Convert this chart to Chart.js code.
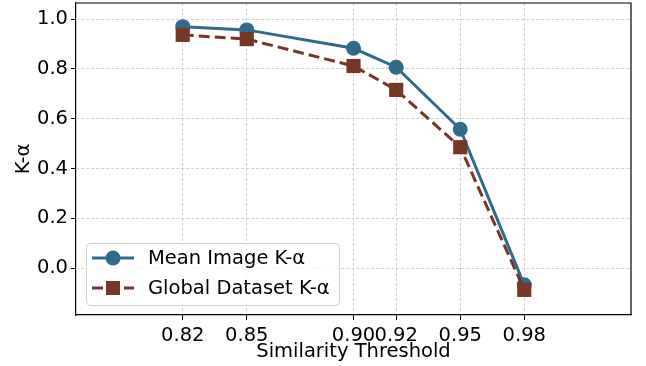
<!DOCTYPE html>
<html>
<head>
<meta charset="utf-8">
<script src="https://cdn.jsdelivr.net/npm/chart.js@4/dist/chart.umd.min.js"></script>
<style>
  html, body { margin: 0; padding: 0; background: #fff; }
  canvas { display: block; }
</style>
</head>
<body>
<canvas id="kalpha-chart" width="646" height="366"></canvas>
<script>
/*global Chart */
const thresholds = [0.82, 0.85, 0.90, 0.92, 0.95, 0.98]
const meanImageAlpha = [0.970, 0.957, 0.883, 0.807, 0.558, -0.067]
const globalDatasetAlpha = [0.937, 0.920, 0.812, 0.716, 0.486, -0.087]
const xTicks = [0.82, 0.85, 0.90, 0.92, 0.95, 0.98]
const yTicks = [0.0, 0.2, 0.4, 0.6, 0.8, 1.0]

const blue = '#316b89'
const brown = '#763628'
const font = { family: 'DejaVu Sans', size: 19.5 }

const toPoints = values => thresholds.map((x, i) => ({ x, y: values[i] }))

// black frame round the plot area (top and right come from here)
const frame = {
  id: 'frame',
  afterDraw: chart => {
    const { ctx, chartArea: a } = chart
    ctx.save()
    ctx.strokeStyle = '#000'
    ctx.lineWidth = 1.2
    ctx.beginPath()
    ctx.moveTo(a.left, a.top)
    ctx.lineTo(a.right, a.top)
    ctx.lineTo(a.right, a.bottom)
    ctx.stroke()
    ctx.restore()
  }
}

// legend box in the lower left of the plot area
const legendBox = {
  id: 'legendBox',
  afterDraw: chart => {
    const ctx = chart.ctx
    const x0 = 86, y0 = 243, w = 253, h = 62
    ctx.save()
    ctx.beginPath()
    ctx.roundRect(x0 + 0.5, y0 + 0.5, w, h, 4)
    ctx.fillStyle = 'rgba(255,255,255,0.8)'
    ctx.fill()
    ctx.strokeStyle = '#d0d0d0'
    ctx.lineWidth = 1
    ctx.stroke()

    const rows = [
      { label: 'Mean Image K-α', color: blue, dash: [], shape: 'circle', y: 258 },
      { label: 'Global Dataset K-α', color: brown, dash: [11, 5], shape: 'rect', y: 288 }
    ]
    rows.forEach(row => {
      ctx.strokeStyle = row.color
      ctx.fillStyle = row.color
      ctx.lineWidth = 3
      ctx.setLineDash(row.dash)
      ctx.beginPath()
      ctx.moveTo(92, row.y)
      ctx.lineTo(134, row.y)
      ctx.stroke()
      ctx.setLineDash([])
      if (row.shape === 'circle') {
        ctx.beginPath()
        ctx.arc(113, row.y, 7.5, 0, Math.PI * 2)
        ctx.fill()
      } else {
        ctx.fillRect(106, row.y - 7, 14, 14)
      }
      ctx.fillStyle = '#000'
      ctx.font = `${font.size}px ${font.family}`
      ctx.textBaseline = 'middle'
      ctx.fillText(row.label, 148, row.y + 1)
    })
    ctx.restore()
  }
}

new Chart(document.getElementById('kalpha-chart'), {
  type: 'line',
  data: {
    datasets: [
      {
        label: 'Mean Image K-α',
        data: toPoints(meanImageAlpha),
        borderColor: blue,
        backgroundColor: blue,
        borderWidth: 3,
        pointStyle: 'circle',
        pointRadius: 7.5,
        pointBorderWidth: 0,
        order: 1
      },
      {
        label: 'Global Dataset K-α',
        data: toPoints(globalDatasetAlpha),
        borderColor: brown,
        backgroundColor: brown,
        borderWidth: 3,
        borderDash: [11, 5],
        pointStyle: 'rect',
        pointRadius: 10,
        pointBorderWidth: 0,
        order: 0
      }
    ]
  },
  options: {
    responsive: false,
    animation: false,
    devicePixelRatio: 1,
    layout: { autoPadding: false, padding: { left: 0, top: 3, right: 15, bottom: 0 } },
    plugins: { legend: { display: false }, tooltip: { enabled: false } },
    scales: {
      x: {
        type: 'linear',
        min: 0.77,
        max: 1.03,
        afterBuildTicks: scale => { scale.ticks = xTicks.map(value => ({ value })) },
        afterFit: scale => {
          scale.height = 51
          scale.paddingLeft = 0
          scale.paddingRight = 0
        },
        ticks: { color: '#000', font, padding: 4, maxRotation: 0, autoSkip: false, callback: v => v.toFixed(2) },
        grid: { color: '#c4c4c4', lineWidth: 0.8, tickColor: '#000', tickLength: 5, tickWidth: 1 },
        border: { color: '#000', width: 1.2, dash: [3, 2] },
        title: { display: true, text: 'Similarity Threshold', color: '#000', font, padding: { top: 0, bottom: 2 } }
      },
      y: {
        type: 'linear',
        min: -0.188,
        max: 1.065,
        afterBuildTicks: scale => { scale.ticks = yTicks.map(value => ({ value })) },
        afterFit: scale => {
          scale.width = 76
          scale.paddingTop = 0
          scale.paddingBottom = 0
        },
        ticks: { color: '#000', font, padding: 3, autoSkip: false, callback: v => v.toFixed(1) },
        grid: { color: '#c4c4c4', lineWidth: 0.8, tickColor: '#000', tickLength: 5, tickWidth: 1 },
        border: { color: '#000', width: 1.2, dash: [3, 2] },
        title: { display: true, text: 'K-α', color: '#000', font, padding: { top: 12, bottom: 0 } }
      }
    }
  },
  plugins: [frame, legendBox]
})
</script>
</body>
</html>
